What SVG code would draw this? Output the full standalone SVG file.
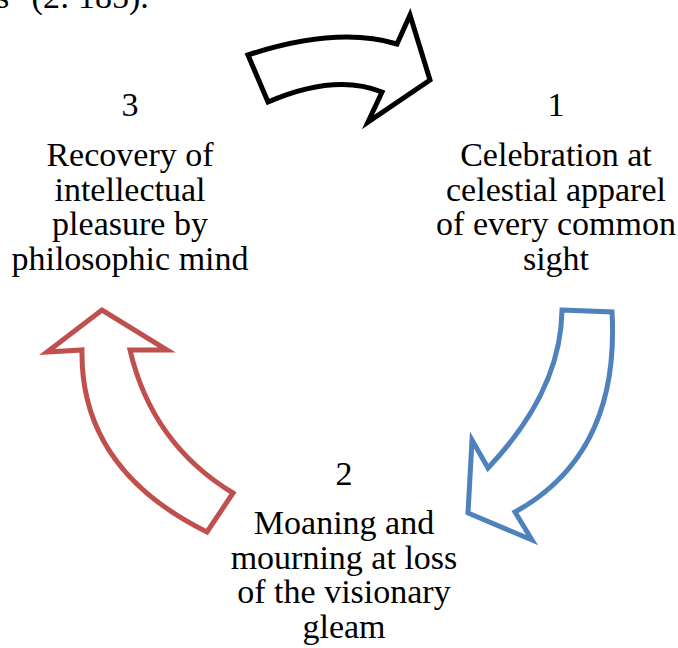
<svg xmlns="http://www.w3.org/2000/svg" width="678" height="648" viewBox="0 0 678 648">
<style>
text{font-family:"Liberation Serif","Times New Roman",serif;font-size:34px;fill:#000;text-anchor:middle}
.arrow{fill:#fff;stroke-width:5;stroke-linejoin:miter}
</style>
<rect width="678" height="648" fill="#fff"/>
<text x="-4" y="8" style="text-anchor:start">s" (2: 185).</text>
<g id="connectors">
<path id="arrow-3-1" class="arrow" stroke="#000" d="M248,55 Q337,26 397,44 L410,15 L430,80 L368,122 L382,92 Q335,73 268,102 Z"/>
<path id="arrow-1-2" class="arrow" stroke="#4F81BD" d="M562,310 L612,312 Q620,454 515,512 L532,540 L468,513 L472,440 L488,468 Q561,391 562,310 Z"/>
<path id="arrow-2-3" class="arrow" stroke="#C0504D" d="M102,310 L47,352 L82,350 Q80,469 207,532 L233,493 Q152,444 130,350 L167,350 Z"/>
</g>
<g id="node-1">
<text x="556" y="116">1</text>
<text x="556" y="166">Celebration at</text>
<text x="556" y="200.5">celestial apparel</text>
<text x="556" y="235">of every common</text>
<text x="556" y="269.5">sight</text>
</g>
<g id="node-2">
<text x="344" y="485">2</text>
<text x="344" y="534">Moaning and</text>
<text x="344" y="568.5">mourning at loss</text>
<text x="344" y="603">of the visionary</text>
<text x="344" y="637.5">gleam</text>
</g>
<g id="node-3">
<text x="130" y="116">3</text>
<text x="130" y="166">Recovery of</text>
<text x="130" y="200.5">intellectual</text>
<text x="130" y="235">pleasure by</text>
<text x="130" y="269.5">philosophic mind</text>
</g>
</svg>
